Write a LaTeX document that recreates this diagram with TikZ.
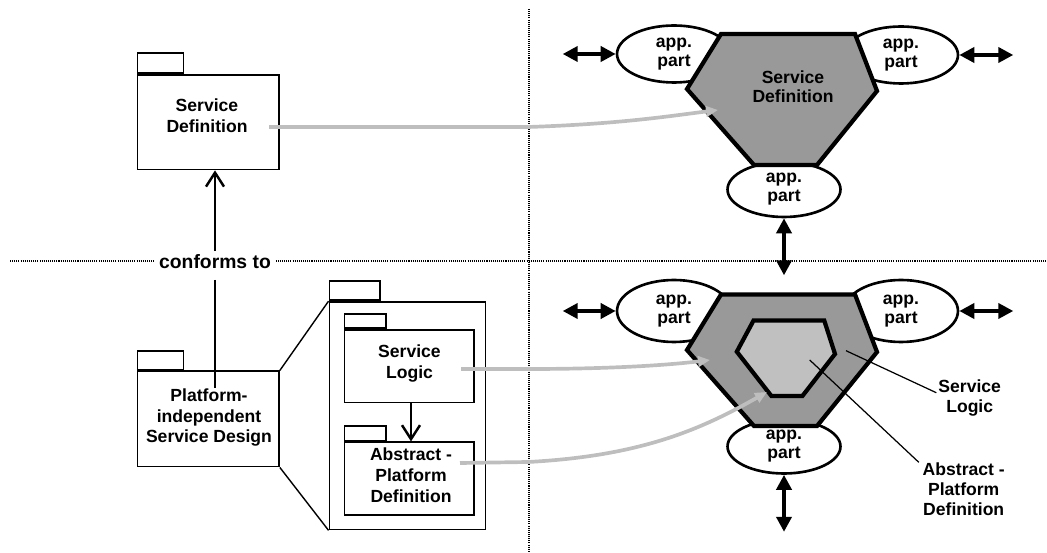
\documentclass[tikz,border=0pt]{standalone}
\usepackage{fontspec}
\setmainfont{Liberation Sans}
\usetikzlibrary{arrows.meta,shapes.geometric}
\definecolor{hexdark}{HTML}{999999}
\definecolor{hexlight}{HTML}{C0C0C0}
\definecolor{connGray}{HTML}{BEBEBE}
\begin{document}
\begin{tikzpicture}[x=0.02cm,y=-0.02cm,
  txt/.style={font=\bfseries\fontsize{10}{11.8}\selectfont,align=center,inner sep=0pt},
  pkgbody/.style={draw,line width=1pt,fill=white,inner sep=0pt},
  pkgtab/.style={draw,line width=1pt,fill=white,inner sep=0pt,anchor=south west},
  hexa/.style={draw,line width=2.4pt,line join=miter},
  app/.style={ellipse,draw,line width=1.5pt,fill=white,inner sep=0pt,minimum width=2.28cm,
    font=\bfseries\fontsize{10}{10.8}\selectfont,align=center},
  dbl/.style={line width=2.1pt,{Triangle[length=3mm,width=3mm]}-{Triangle[length=3mm,width=3mm]}},
  conf/.style={line width=1.4pt,-{Straight Barb[length=2.8mm,width=3.6mm,line width=1.4pt]}},
  grayarr/.style={draw=connGray,line width=2.1pt,-{Triangle[length=2.4mm,width=2.1mm]},color=connGray},
  leader/.style={line width=0.7pt},
  dotline/.style={line width=1.3pt,dash pattern=on 0.6pt off 0.6pt}
]
\useasboundingbox (0,0) rectangle (1047,553);
% separators
\draw[dotline] (529,9) -- (529,553);
\draw[dotline] (10,261) -- (1047,261);

% ---------- top left package
\node[pkgbody,minimum width=2.83cm,minimum height=1.89cm] (sdpkg) at (208.25,122.25) {};
\node[pkgtab,minimum width=0.92cm,minimum height=0.4cm] (sdtab) at (sdpkg.north west) {};
\node[txt] (sdtxt) at (207,116) {Service\\Definition};

% ---------- conforms to
\node[font=\bfseries\fontsize{11}{13}\selectfont,fill=white,inner xsep=3pt,inner ysep=2pt] (conf) at (215,262) {conforms to};
\draw[conf] (conf.north) -- (conf.north |- sdpkg.south);

% ---------- bottom left package
\node[pkgbody,minimum width=2.83cm,minimum height=1.906cm] (pid) at (208.25,418.95) {};
\node[pkgtab,minimum width=0.92cm,minimum height=0.37cm] (pidtab) at (pid.north west) {};
\node[txt,fill=none] (pidtxt) at (209,417.5) {Platform-\\independent\\Service Design};
\draw[line width=1.4pt] ([yshift=-4pt]conf.south) -- (conf.south |- pidtxt.north);

% ---------- big package
\node[pkgbody,minimum width=3.122cm,minimum height=4.55cm] (big) at (407.45,415.75) {};
\node[pkgtab,minimum width=1.012cm,minimum height=0.39cm] (bigtab) at (big.north west) {};
\draw[line width=0.8pt] (pid.north east) -- (big.north west);
\draw[line width=0.8pt] (pid.south east) -- (big.south west);

\node[pkgbody,minimum width=2.588cm,minimum height=1.448cm] (sl) at (409.3,366.2) {};
\node[pkgtab,minimum width=0.828cm,minimum height=0.288cm] (sltab) at (sl.north west) {};
\node[txt] (sltxt) at (409.5,363.5) {Service\\Logic};

\node[pkgbody,minimum width=2.588cm,minimum height=1.454cm] (ap) at (409.3,478.65) {};
\node[pkgtab,minimum width=0.828cm,minimum height=0.29cm] (aptab) at (ap.north west) {};
\node[txt] (aptxt) at (411,475.3) {Abstract -\\Platform\\Definition};
\draw[conf] (sl.south -| 411,0) -- (ap.north -| 411,0);

% ---------- top right hexagon
\node[app,minimum height=1.14cm] (e1) at (674,54) {app.\\part};
\node[app,minimum height=1.14cm] (e2) at (901,55) {app.\\part};
\node[app,minimum width=2.26cm,minimum height=1.1cm] (e3) at (784,189.5) {app.\\part};
\draw[hexa,fill=hexdark] (721,34) -- (855,34) -- (877,91) -- (817,165) -- (754,165) -- (687,89) -- cycle;
\node[txt,font=\bfseries\fontsize{10}{11}\selectfont] (hsd) at (793,87) {Service\\Definition};
\draw[dbl] (e1.west) -- ++(-53,0);
\draw[dbl] (e2.east) -- ++(54,0);
\draw[dbl] (e3.south) -- ++(0,57);

% ---------- bottom right hexagon
\node[app,minimum height=1.24cm] (f1) at (674,311) {app.\\part};
\node[app,minimum height=1.24cm] (f2) at (901,311) {app.\\part};
\node[app,minimum width=2.26cm,minimum height=1.08cm] (f3) at (784,446.5) {app.\\part};
\draw[hexa,fill=hexdark] (721,294.5) -- (855,294.5) -- (877,352) -- (817,426) -- (754,426) -- (687,350) -- cycle;
\draw[hexa,fill=hexlight] (753.6,320.4) -- (824.2,320.4) -- (835,354) -- (802.4,396) -- (771.4,396) -- (736.8,351.7) -- cycle;
\draw[dbl] (f1.west) -- ++(-53,0);
\draw[dbl] (f2.east) -- ++(54,0);
\draw[dbl] (f3.south) -- ++(0,57);

% labels with leaders
\node[txt,font=\bfseries\fontsize{10}{11.3}\selectfont] (lsl) at (969.7,398) {Service\\Logic};
\node[txt,font=\bfseries\fontsize{10}{11.3}\selectfont] (lap) at (963.7,489) {Abstract -\\Platform\\Definition};
\coordinate (slpt) at (846,350.7);
\coordinate (appt) at (809.7,360);
\draw[leader] (slpt) -- ([xshift=-1pt,yshift=3pt]lsl.west);
\draw[leader] (appt) -- ([xshift=-2pt]lap.north west);

% ---------- gray mapping arrows
\coordinate (g1s) at (269,127);
\coordinate (g1e) at (718,110);
\draw[grayarr] (g1s) -- (528,127) .. controls (620,124) and (670,116) .. (g1e);
\coordinate (g2s) at (461,369);
\coordinate (g2e) at (710,360);
\draw[grayarr] (g2s) -- (528,369) .. controls (600,369) and (660,366) .. (g2e);
\coordinate (g3s) at (460,463);
\coordinate (g3e) at (767,392);
\draw[grayarr] (g3s) -- (528,462) .. controls (640,456) and (700,430) .. (g3e);
\end{tikzpicture}
\end{document}
